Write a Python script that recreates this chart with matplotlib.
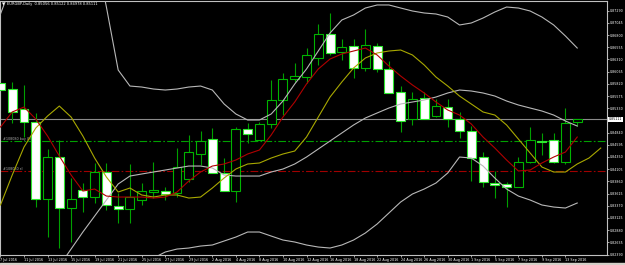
import numpy as np
import matplotlib.pyplot as plt
from matplotlib.patches import Rectangle

nan = np.nan

# daily EURGBP candles, 7 Jul 2016 .. 14 Sep 2016
opens = [0.85837, 0.85716, 0.85314, 0.85053, 0.83505, 0.84349, 0.83324, 0.83686, 0.83545, 0.84048,
         0.83364, 0.83304, 0.83485, 0.83646, 0.83666, 0.83626, 0.83907, 0.84410, 0.84711, 0.84028,
         0.83666, 0.84912, 0.84691, 0.85013, 0.85495, 0.85917, 0.85957, 0.86339, 0.86822, 0.86460,
         0.86580, 0.86138, 0.86580, 0.86118, 0.85656, 0.85113, 0.85535, 0.85173, 0.85354, 0.85113,
         0.84872, 0.84349, 0.83827, 0.83807, 0.83746, 0.84249, 0.84671, 0.84691, 0.84249, 0.85056]
highs = [0.86158, 0.85857, 0.85797, 0.85234, 0.84510, 0.84691, 0.83927, 0.83827, 0.84229, 0.84229,
         0.83626, 0.84209, 0.83827, 0.84249, 0.83746, 0.84530, 0.84792, 0.84872, 0.84932, 0.84329,
         0.84952, 0.85033, 0.85053, 0.85897, 0.86038, 0.86239, 0.86540, 0.87023, 0.87244, 0.86721,
         0.86721, 0.86922, 0.86641, 0.86279, 0.85776, 0.85656, 0.85656, 0.85515, 0.85515, 0.85254,
         0.84972, 0.84450, 0.84068, 0.83847, 0.84349, 0.84952, 0.84832, 0.84832, 0.85334, 0.85122]
lows = [0.85294, 0.85033, 0.84751, 0.83344, 0.82741, 0.82520, 0.82641, 0.83244, 0.83425, 0.83284,
        0.83023, 0.83023, 0.83385, 0.83525, 0.83485, 0.83545, 0.83847, 0.84189, 0.84028, 0.83666,
        0.83445, 0.84631, 0.84691, 0.84932, 0.85193, 0.85857, 0.85837, 0.86199, 0.86400, 0.86299,
        0.85937, 0.86078, 0.86058, 0.85636, 0.84852, 0.84993, 0.85113, 0.85153, 0.84952, 0.84731,
        0.83867, 0.83746, 0.83525, 0.83344, 0.83746, 0.84229, 0.84390, 0.84229, 0.84209, 0.84978]
closes = [0.85696, 0.85254, 0.85053, 0.83505, 0.84349, 0.83324, 0.83505, 0.83545, 0.84048, 0.83385,
          0.83304, 0.83545, 0.83666, 0.83686, 0.83606, 0.84148, 0.84450, 0.84671, 0.84028, 0.83666,
          0.84912, 0.84812, 0.85013, 0.85495, 0.85917, 0.85977, 0.86400, 0.86822, 0.86440, 0.86560,
          0.86138, 0.86601, 0.86118, 0.85636, 0.85073, 0.85515, 0.85113, 0.85374, 0.85113, 0.84872,
          0.84329, 0.83847, 0.83787, 0.83746, 0.84249, 0.84691, 0.84651, 0.84249, 0.85033, 0.85111]

# fast moving average (red)
ma_red = [0.84952, 0.85254, 0.85354, 0.85113, 0.84771, 0.84369, 0.83988, 0.83666, 0.83706, 0.83565,
          0.83545, 0.83545, 0.83545, 0.83525, 0.83545, 0.83646, 0.83867, 0.84048, 0.84168, 0.84209,
          0.84289, 0.84410, 0.84490, 0.84792, 0.85153, 0.85455, 0.85817, 0.86118, 0.86319, 0.86420,
          0.86480, 0.86540, 0.86400, 0.86178, 0.85977, 0.85797, 0.85636, 0.85455, 0.85294, 0.85193,
          0.85013, 0.84751, 0.84530, 0.84289, 0.84068, 0.84088, 0.84229, 0.84349, 0.84450, 0.84751]
# shifted moving average (olive), runs 2 bars past the last candle
ma_yellow = [0.83385, 0.83988, 0.84550, 0.84932, 0.85173, 0.85374, 0.85153, 0.84771, 0.84329, 0.83947,
             0.83646, 0.83726, 0.83586, 0.83545, 0.83586, 0.83586, 0.83525, 0.83545, 0.83726, 0.83927,
             0.84108, 0.84209, 0.84229, 0.84329, 0.84410, 0.84470, 0.84751, 0.85153, 0.85555, 0.85857,
             0.86138, 0.86339, 0.86440, 0.86480, 0.86500, 0.86400, 0.86199, 0.85957, 0.85776, 0.85575,
             0.85415, 0.85254, 0.85193, 0.84993, 0.84711, 0.84430, 0.84148, 0.84048, 0.84048, 0.84209,
             0.84329, 0.84530]
# bollinger bands
bb_upper = [0.87224, 0.87847, 0.88309, 0.88611, 0.88711, 0.88751, 0.88711, 0.88671, 0.88550, 0.87364,
            0.86098, 0.85776, 0.85756, 0.85716, 0.85696, 0.85716, 0.85756, 0.85776, 0.85696, 0.85415,
            0.85214, 0.85093, 0.85093, 0.85214, 0.85475, 0.85817, 0.86118, 0.86480, 0.86842, 0.87103,
            0.87204, 0.87344, 0.87405, 0.87405, 0.87344, 0.87284, 0.87244, 0.87224, 0.87163, 0.87003,
            0.87043, 0.87143, 0.87264, 0.87364, 0.87344, 0.87284, 0.87163, 0.87003, 0.86781, 0.86540]
bb_middle = [nan, nan, nan, nan, nan, 0.82158, 0.82500, 0.82842, 0.83163, 0.83485,
             0.83807, 0.83967, 0.84008, 0.84048, 0.84088, 0.84128, 0.84168, 0.84168, 0.84128, 0.83988,
             0.83967, 0.83967, 0.83967, 0.84048, 0.84108, 0.84209, 0.84349, 0.84510, 0.84671, 0.84832,
             0.84993, 0.85133, 0.85234, 0.85334, 0.85415, 0.85455, 0.85495, 0.85555, 0.85636, 0.85696,
             0.85676, 0.85636, 0.85575, 0.85475, 0.85395, 0.85334, 0.85274, 0.85193, 0.85073, 0.84972]
bb_lower = [nan, nan, nan, nan, nan, nan, nan, nan, nan, nan,
            nan, nan, 0.81978, 0.82319, 0.82440, 0.82500, 0.82520, 0.82560, 0.82581, 0.82661,
            0.82741, 0.82842, 0.82842, 0.82761, 0.82681, 0.82641, 0.82581, 0.82540, 0.82520, 0.82581,
            0.82681, 0.82822, 0.83003, 0.83224, 0.83445, 0.83606, 0.83706, 0.83827, 0.84028, 0.84349,
            0.84329, 0.84168, 0.83927, 0.83706, 0.83565, 0.83485, 0.83385, 0.83344, 0.83324, 0.83425]

bid = 0.85111
order_open = 0.84677
order_sl = 0.84062

date_labels = ['7 Jul 2016', '11 Jul 2016', '13 Jul 2016', '15 Jul 2016', '19 Jul 2016',
               '21 Jul 2016', '25 Jul 2016', '27 Jul 2016', '29 Jul 2016', '2 Aug 2016',
               '4 Aug 2016', '8 Aug 2016', '10 Aug 2016', '12 Aug 2016', '16 Aug 2016',
               '18 Aug 2016', '22 Aug 2016', '24 Aug 2016', '26 Aug 2016', '30 Aug 2016',
               '1 Sep 2016', '5 Sep 2016', '7 Sep 2016', '9 Sep 2016', '13 Sep 2016']
price_labels = ['0.87290', '0.87045', '0.86800', '0.86555', '0.86310', '0.86065', '0.85820',
                '0.85575', '0.85330', '0.84840', '0.84595', '0.84350', '0.84105', '0.83860',
                '0.83615', '0.83370', '0.83125', '0.82880', '0.82635', '0.82390']

o = np.array(opens)
h = np.array(highs)
l = np.array(lows)
c = np.array(closes)
x = np.arange(len(o))
bull = c >= o

fig = plt.figure(figsize=(6.25, 2.65), dpi=100, facecolor='black')
ax = fig.add_axes([0, 10 / 265, 607 / 625, 254 / 265], facecolor='black')

# order / price lines
ax.axhline(bid, color='#8a8a8a', lw=0.8, zorder=1)
ax.axhline(order_open, color='#00a000', lw=0.8, ls=(0, (7, 2, 1.5, 2)), zorder=1)
ax.axhline(order_sl, color='#a00000', lw=0.8, ls=(0, (7, 2, 1.5, 2)), zorder=1)
ax.text(0.005, order_open, '#108080 buy 0.01', transform=ax.get_yaxis_transform(),
        fontsize=2.4, color='#b0b0b0', va='bottom')
ax.text(0.005, order_sl, '#108080 sl', transform=ax.get_yaxis_transform(),
        fontsize=2.4, color='#b0b0b0', va='bottom')

# candles
ax.vlines(x, l, h, color='#00a000', lw=0.8, zorder=2)
ax.bar(x[bull], (c - o)[bull], bottom=o[bull], width=0.76, color='black',
       edgecolor='#00b400', lw=0.8, zorder=3)
ax.bar(x[~bull], (o - c)[~bull], bottom=c[~bull], width=0.76, color='white',
       edgecolor='#2ee82e', lw=0.8, zorder=3)

# indicators
ax.plot(x, bb_upper, color='#b8b8b8', lw=0.8, zorder=4)
ax.plot(x, bb_middle, color='#b8b8b8', lw=0.8, zorder=4)
ax.plot(x, bb_lower, color='#b8b8b8', lw=0.8, zorder=4)
ax.plot(np.arange(len(ma_yellow)), ma_yellow, color='#a8a800', lw=0.8, zorder=5)
ax.plot(x, ma_red, color='#b00000', lw=0.8, zorder=5)

ax.set_xlim(-0.04, 51.53)
ax.set_ylim(0.82380, 0.87485)

ax.set_xticks(np.arange(0, len(o), 2))
ax.set_xticklabels(date_labels, fontsize=2.4, color='white', ha='left')
ax.set_yticks([float(v) for v in price_labels])
ax.set_yticklabels(price_labels, fontsize=2.3, color='white')
ax.yaxis.tick_right()
ax.tick_params(axis='both', colors='#c0c0c0', length=1.5, width=0.6, pad=0.6)
ax.tick_params(axis='x', labelcolor='white')
ax.tick_params(axis='y', labelcolor='white')
for s in ax.spines.values():
    s.set_color('#c0c0c0')
    s.set_linewidth(0.8)

# current price box
ax.text(1.003, bid, '0.85111', transform=ax.get_yaxis_transform(), fontsize=2.3,
        color='black', va='center', ha='left',
        bbox=dict(facecolor='white', edgecolor='none', pad=0.4))

# header
fig.text(2 / 625, 1 - 4 / 265, '\u25bc', fontsize=2.6, color='white', va='center')
fig.text(7 / 625, 1 - 4 / 265, 'EURGBP,Daily  0.85056 0.85122 0.84978 0.85111',
         fontsize=2.6, color='white', va='center')

fig.patches.append(Rectangle((0, 0), 1, 2.5 / 265, transform=fig.transFigure,
                             color='#d4d0c8', zorder=0))

fig.savefig('out.png', dpi=100, facecolor='black')
